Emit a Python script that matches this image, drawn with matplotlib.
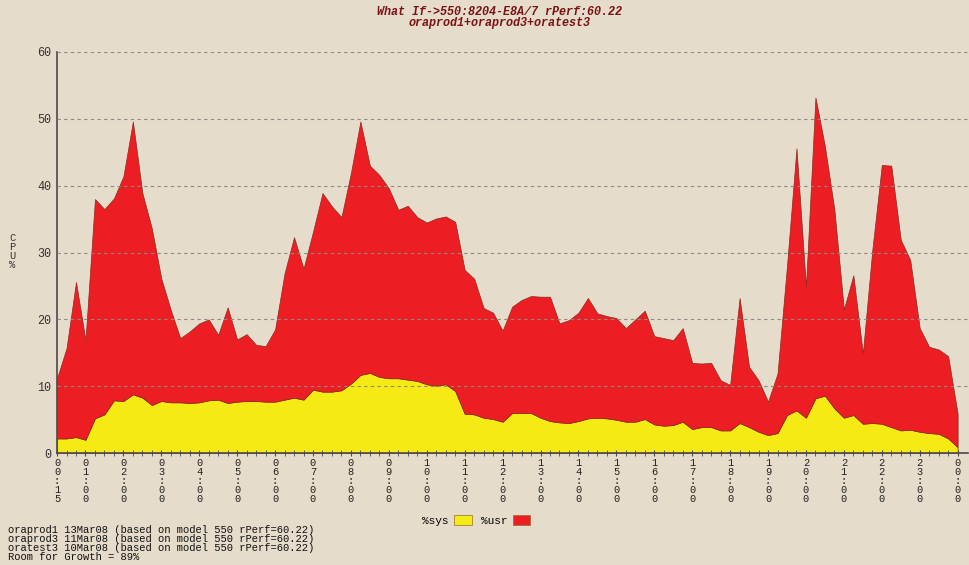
import numpy as np
import matplotlib
matplotlib.use("Agg")
import matplotlib.pyplot as plt
from matplotlib.ticker import FixedLocator, MultipleLocator

# ============================================================
#   DATA  (15 minute samples, 00:15 -> 00:00)
# ============================================================
sys_pct = [2.2, 2.2, 2.4, 2.0, 5.2, 5.8, 7.9, 7.8, 8.8, 8.3, 7.2, 7.8,
           7.6, 7.6, 7.5, 7.6, 7.9, 8.0, 7.5, 7.7, 7.8, 7.8, 7.7, 7.7,
           8.0, 8.3, 8.0, 9.5, 9.2, 9.2, 9.4, 10.4, 11.7, 12.0, 11.4, 11.2,
           11.2, 11.0, 10.8, 10.3, 10.1, 10.3, 9.3, 5.9, 5.8, 5.3, 5.1, 4.7,
           6.0, 6.0, 6.0, 5.3, 4.8, 4.6, 4.5, 4.8, 5.2, 5.3, 5.2, 5.0,
           4.7, 4.7, 5.1, 4.3, 4.1, 4.2, 4.7, 3.6, 3.9, 3.9, 3.4, 3.4,
           4.5, 3.9, 3.2, 2.7, 3.0, 5.7, 6.4, 5.3, 8.2, 8.6, 6.7, 5.3,
           5.7, 4.4, 4.5, 4.4, 3.9, 3.4, 3.5, 3.2, 3.0, 2.9, 2.2, 0.9]

usr_pct = [9.0, 13.5, 23.2, 14.9, 32.8, 30.7, 30.2, 33.6, 40.8, 30.6, 26.4, 18.3,
           13.8, 9.6, 10.7, 11.8, 12.1, 9.7, 14.3, 9.3, 10.0, 8.4, 8.3, 10.8,
           18.9, 24.0, 19.6, 23.6, 29.7, 27.7, 25.9, 31.5, 37.9, 31.0, 30.2, 28.4,
           25.2, 26.0, 24.5, 24.2, 25.0, 25.1, 25.3, 21.5, 20.3, 16.4, 15.9, 13.6,
           15.9, 16.9, 17.5, 18.1, 18.6, 14.8, 15.4, 16.2, 18.0, 15.6, 15.3, 15.2,
           14.0, 15.3, 16.2, 13.2, 13.1, 12.7, 14.0, 9.9, 9.5, 9.6, 7.5, 6.8,
           18.7, 9.0, 7.7, 5.0, 8.9, 22.3, 39.2, 19.6, 45.0, 37.3, 29.7, 16.2,
           20.9, 10.5, 25.9, 38.7, 39.1, 28.5, 25.4, 15.5, 12.9, 12.6, 12.3, 5.0]

hour_labels = ["00:15"] + ["%02d:00" % h for h in range(1, 24)] + ["00:00"]
hour_pos = [0] + [4 * h - 1 for h in range(1, 24)] + [95]

title_lines = "What If->550:8204-E8A/7 rPerf:60.22\noraprod1+oraprod3+oratest3"
footer = ["oraprod1 13Mar08 (based on model 550 rPerf=60.22)",
          "oraprod3 11Mar08 (based on model 550 rPerf=60.22)",
          "oratest3 10Mar08 (based on model 550 rPerf=60.22)",
          "Room for Growth = 89%"]

BG = "#e6dccb"
RED = "#ec1e24"
YEL = "#f5ea14"
MONO = ["Liberation Mono", "DejaVu Sans Mono"]

# ============================================================
#   PLOT
# ============================================================
fig = plt.figure(figsize=(9.7, 5.65), dpi=100, facecolor=BG)
ax = fig.add_axes([0.0588, 0.198, 0.9392, 0.71], facecolor=BG)

x = np.arange(len(sys_pct))
ax.stackplot(x, sys_pct, usr_pct, colors=[YEL, RED], labels=["%sys", "%usr"],
             edgecolor="#8a2a1a", linewidth=0.5)

ax.set_xlim(0, 96.1)
ax.set_ylim(0, 60)
ax.yaxis.set_major_locator(MultipleLocator(10))
ax.grid(axis="y", color="#8c8a84", linestyle=(0, (3, 3)), linewidth=0.8)
ax.set_axisbelow(False)
for s in ["top", "right"]:
    ax.spines[s].set_visible(False)
ax.spines["left"].set_color("#4a4a4a")
ax.spines["bottom"].set_color("#4a4a4a")
ax.spines["left"].set_linewidth(1.2)
ax.spines["bottom"].set_linewidth(1.2)

ax.xaxis.set_major_locator(FixedLocator(hour_pos))
ax.xaxis.set_minor_locator(FixedLocator(list(x)))
ax.set_xticklabels(["\n".join(l) for l in hour_labels], family=MONO,
                   fontsize=7.5, linespacing=0.88, color="#222222")
ax.tick_params(axis="x", which="both", direction="inout", length=5,
               color="#4a4a4a", pad=1)
ax.tick_params(axis="y", length=0, pad=4, labelsize=8.5, labelcolor="#333333")
for t in ax.get_yticklabels():
    t.set_family(MONO)

fig.text(0.013, 0.555, "C\nP\nU\n%", family=MONO, fontsize=7.5,
         linespacing=0.9, va="center", ha="center", color="#333333")

fig.text(0.515, 0.99, title_lines, family=MONO, fontsize=8.5, style="italic",
         weight="bold", color="#7a1414", ha="center", va="top", linespacing=0.92)

leg = ax.legend(loc="upper center", bbox_to_anchor=(0.46, -0.13), ncol=2,
                frameon=False, markerfirst=False, handlelength=1.6,
                handleheight=1.0, columnspacing=0.8, handletextpad=0.5,
                prop={"family": MONO, "size": 8})
for h in leg.legend_handles:
    h.set_edgecolor("#9a6a30")
    h.set_linewidth(0.5)

for k, line in enumerate(footer):
    fig.text(0.008, 0.062 - k * 0.016, line, family=MONO, fontsize=7.6,
             color="#111111", va="center")

plt.savefig("out.png", dpi=100, facecolor=BG)
plt.close()
